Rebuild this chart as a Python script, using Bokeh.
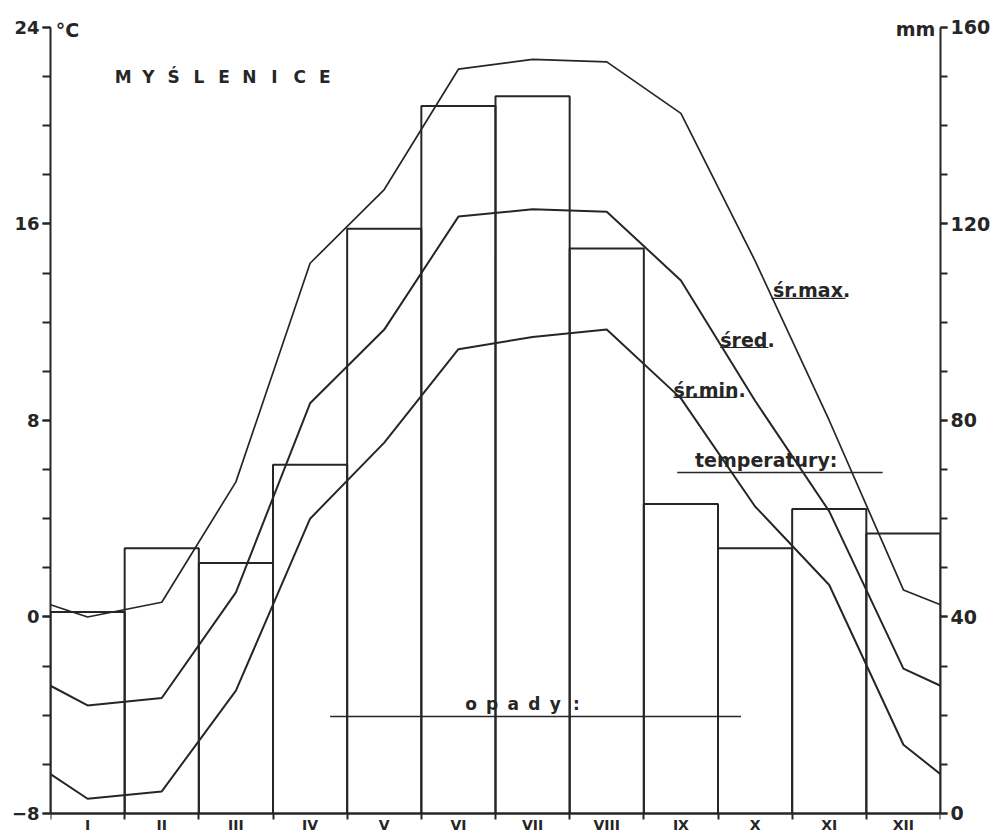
from bokeh.plotting import figure
from bokeh.models import Range1d, LinearAxis, FixedTicker, ColumnDataSource
from bokeh.core.properties import value
from bokeh.embed import file_html
from bokeh.resources import INLINE

# ---------------- data ----------------
months = ["I", "II", "III", "IV", "V", "VI", "VII", "VIII", "IX", "X", "XI", "XII"]
precip_mm = [41, 54, 51, 71, 119, 144, 146, 115, 63, 54, 62, 57]          # opady
t_max = [0.0, 0.6, 5.5, 14.4, 17.4, 22.3, 22.7, 22.6, 20.5, 14.5, 8.0, 1.1]   # śr. max
t_mean = [-3.6, -3.3, 1.0, 8.7, 11.7, 16.3, 16.6, 16.5, 13.7, 8.8, 4.3, -2.1]  # śred.
t_min = [-7.4, -7.1, -3.0, 4.0, 7.1, 10.9, 11.4, 11.7, 8.9, 4.5, 1.3, -5.2]   # śr. min
# values drawn at the Dec/Jan boundary (left and right edges of the chart)
t_max_boundary = 0.5
t_mean_boundary = -2.8
t_min_boundary = -6.4

temp_ticks = [-8, 0, 8, 16, 24]
mm_ticks = [0, 40, 80, 120, 160]
T_LO, T_HI = -8, 24          # temperature axis extent
MM_PER_DEG = 5               # 0 mm <-> -8 °C, 160 mm <-> 24 °C

# ---------------- figure ----------------
INK = "#262626"
FONT = "DejaVu Sans"
W, H = 993, 832
TOP_PAD = 0.69               # room above 24 °C for the unit labels
BOT_PAD = 0.774              # room below -8 °C for the month labels

y_lo, y_hi = T_LO - BOT_PAD, T_HI + TOP_PAD
p = figure(width=W, height=H, output_backend="svg", toolbar_location=None,
           x_range=Range1d(0, len(months)), y_range=Range1d(y_lo, y_hi),
           min_border_left=50, min_border_right=50, min_border_top=10, min_border_bottom=0)
p.extra_y_ranges = {"mm": Range1d((y_lo - T_LO) * MM_PER_DEG, (y_hi - T_LO) * MM_PER_DEG)}
p.outline_line_color = None
p.grid.visible = False
p.background_fill_color = "white"
p.border_fill_color = "white"


def style_axis(ax, tick_len, size):
    ax.major_tick_out = tick_len
    ax.major_tick_in = 0
    ax.minor_tick_out = tick_len
    ax.minor_tick_in = 0
    for attr in ("axis_line", "major_tick_line", "minor_tick_line"):
        setattr(ax, attr + "_width", 2)
        setattr(ax, attr + "_color", INK)
    ax.major_label_text_font = FONT
    ax.major_label_text_font_style = "bold"
    ax.major_label_text_font_size = size
    ax.major_label_text_color = INK
    ax.major_label_standoff = 3


# left temperature axis
ya = p.yaxis[0]
ya.ticker = FixedTicker(ticks=temp_ticks, minor_ticks=list(range(T_LO, T_HI + 1, 2)))
ya.bounds = (T_LO, T_HI)
style_axis(ya, 8, "18px")

# right precipitation axis
ra = LinearAxis(y_range_name="mm",
                ticker=FixedTicker(ticks=mm_ticks, minor_ticks=list(range(0, 161, 10))))
ra.bounds = (0, 160)
style_axis(ra, 7, "19px")
p.add_layout(ra, "right")

# bottom month axis (drawn at -8 °C): labels at month centres, ticks at boundaries
xa = p.xaxis[0]
centres = [i + 0.5 for i in range(len(months))]
xa.ticker = FixedTicker(ticks=centres, minor_ticks=list(range(len(months) + 1)))
xa.major_label_overrides = {c: m for c, m in zip(centres, months)}
style_axis(xa, 0, "14px")
xa.minor_tick_out = 6
xa.major_tick_line_color = None
xa.major_label_standoff = -2
xa.fixed_location = T_LO

# ---------------- bars (precipitation) ----------------
left = list(range(len(months)))
right = [i + 1 for i in left]
bars = ColumnDataSource(dict(left=left, right=right, bottom=[0] * len(months), top=precip_mm))
p.quad(left="left", right="right", bottom="bottom", top="top", source=bars,
       y_range_name="mm", fill_color=None, line_color=INK, line_width=2)

# ---------------- temperature lines ----------------
tx = [0] + centres + [len(months)]
p.line(tx, [t_max_boundary] + t_max + [t_max_boundary], line_color=INK, line_width=1.7)
p.line(tx, [t_mean_boundary] + t_mean + [t_mean_boundary], line_color=INK, line_width=2)
p.line(tx, [t_min_boundary] + t_min + [t_min_boundary], line_color=INK, line_width=2)


# ---------------- texts ----------------
def txt(xs, ys, texts, size, align="left"):
    p.text(x=xs, y=ys, text=texts, text_align=align, text_baseline="middle",
           text_font=value(FONT), text_font_style="bold", text_font_size=size,
           text_color=INK)


# unit labels
txt([0.07], [23.88], ["°C"], "19px")
txt([11.93], [23.94], ["mm"], "19px", align="right")

# title with spaced letters
title = "MYŚLENICE"
txt([0.98 + i * 0.34 for i in range(len(title))], [21.98] * len(title), list(title),
    "17px", align="center")

# series labels with underlines
txt([9.74], [13.31], ["śr.max."], "19px")
p.line([9.72, 10.72], [12.97, 12.97], line_color=INK, line_width=1.2)
txt([9.03], [11.28], ["śred."], "19px")
p.line([9.03, 9.68], [10.97, 10.97], line_color=INK, line_width=1.2)
txt([8.40], [9.24], ["śr.min."], "19px")
p.line([8.40, 9.25], [8.94, 8.94], line_color=INK, line_width=1.2)
txt([8.69], [6.39], ["temperatury:"], "19px")
p.line([8.45, 11.22], [5.88, 5.88], line_color=INK, line_width=1.5)

opady = "opady:"
txt([5.67 + i * 0.284 for i in range(len(opady))], [-3.55] * len(opady), list(opady),
    "17px", align="center")
p.line([3.77, 9.31], [-4.05, -4.05], line_color=INK, line_width=1.5)

open("out.html", "w").write(file_html(p, INLINE))
